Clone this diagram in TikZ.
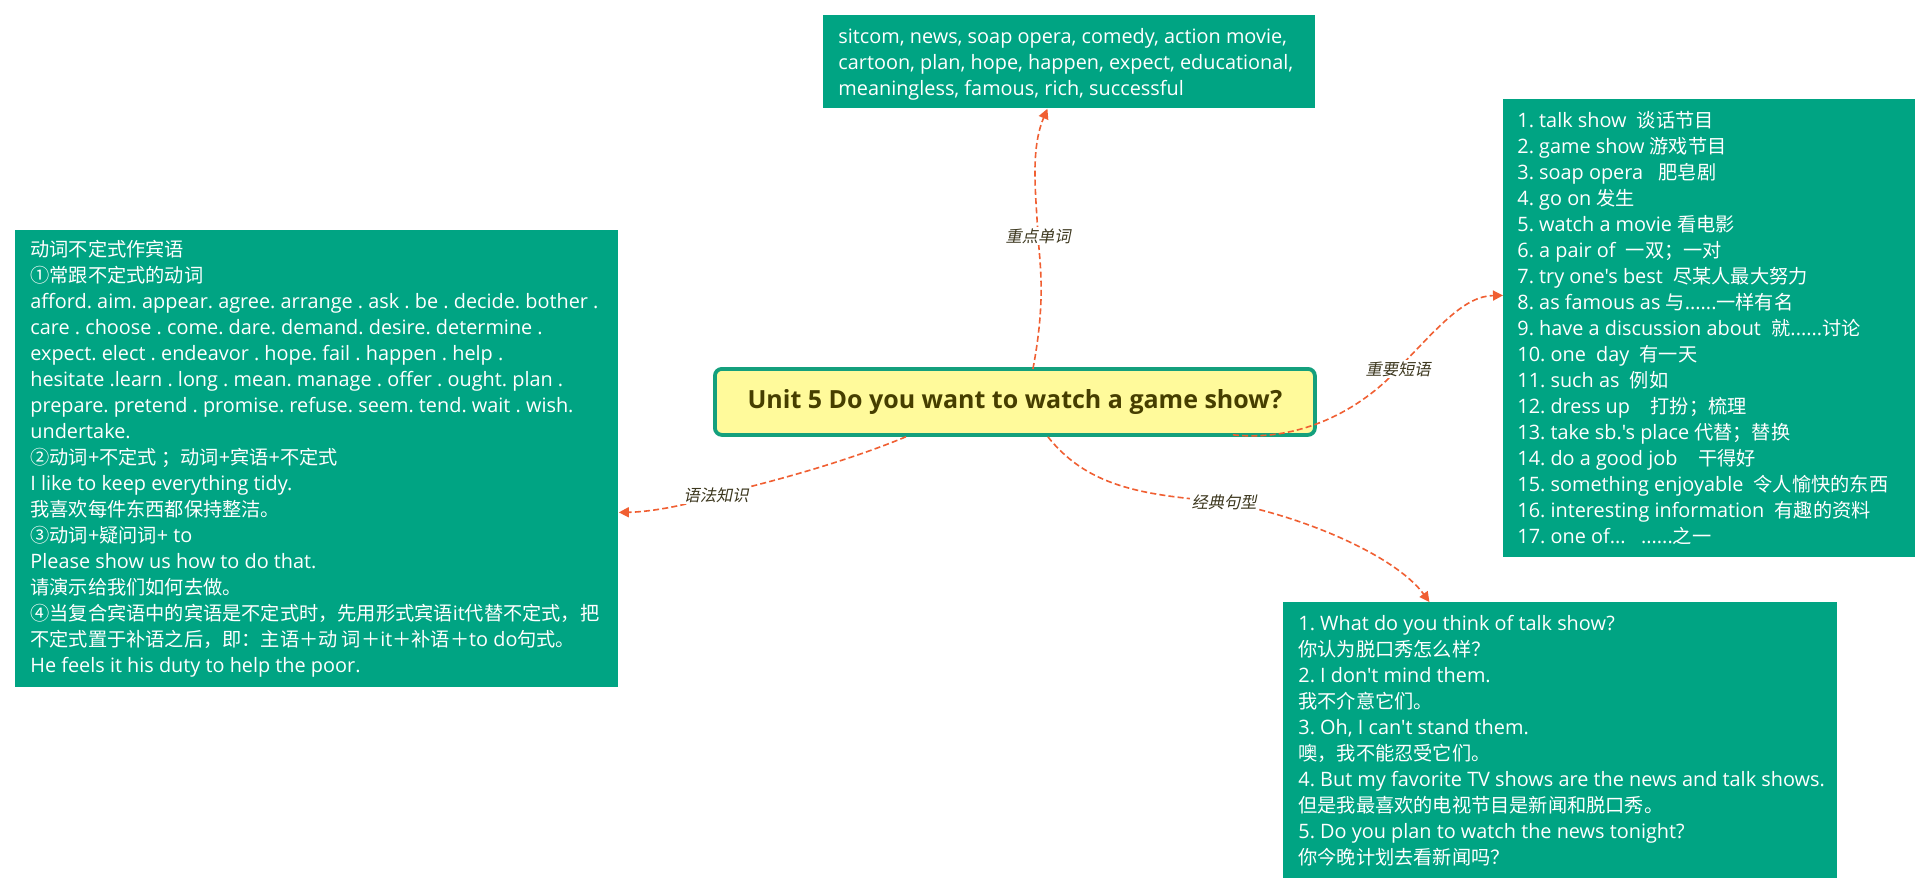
\documentclass[tikz,border=0pt]{standalone}
\usepackage{fontspec}
\setmainfont{Open Sans}
\newfontfamily\latinfont{Open Sans}
\newfontfamily\cjk[Scale=0.967]{Noto Sans CJK SC}
\newfontfamily\cjkit[Scale=0.967,FakeSlant=0.2]{Noto Sans CJK SC}
\usetikzlibrary{arrows.meta}
% automatic switching between Latin and CJK fonts
\chardef\cjkclass=7
\makeatletter
\def\setcjkrange#1#2{\count@=#1\relax
  \loop\XeTeXcharclass\count@=\cjkclass\relax
  \ifnum\count@<#2\relax\advance\count@\@ne\repeat}
\setcjkrange{"4E00}{"9FFF}
\setcjkrange{"3000}{"303F}
\setcjkrange{"FF00}{"FFEF}
\setcjkrange{"2460}{"2473}
\makeatother
\def\curcjk{\cjk}
\def\curlatin{\latinfont}
\XeTeXinterchartoks 0 \cjkclass = {\curcjk}
\XeTeXinterchartoks 4095 \cjkclass = {\curcjk}
\XeTeXinterchartoks \cjkclass 0 = {\curlatin}
\XeTeXinterchartoks 4095 0 = {\curlatin}
\XeTeXinterchartokenstate=1
\frenchspacing
\definecolor{boxgreen}{RGB}{0,164,131}
\definecolor{titlefill}{RGB}{255,250,155}
\definecolor{titleborder}{RGB}{20,160,125}
\definecolor{titletext}{RGB}{70,62,0}
\definecolor{connorange}{RGB}{240,95,50}
\definecolor{labeltext}{RGB}{60,55,30}
\tikzset{
  infobox/.style={fill=boxgreen, anchor=north west, inner sep=0pt},
  infotext/.style={text=white, anchor=west, align=left, inner sep=0pt,
    font=\frenchspacing\fontsize{9.93pt}{13pt}\selectfont},
  titlebox/.style={fill=titlefill, draw=titleborder, line width=1.9pt,
    rounded corners=3.5pt, anchor=north west, minimum width=300pt,
    minimum height=33pt, text=titletext,
    font=\fontsize{12.5pt}{15pt}\selectfont\bfseries},
  conn/.style={draw=connorange, line width=0.8pt, dash pattern=on 3pt off 1.6pt,
    -{Triangle[length=5pt,width=5pt]}},
  lbl/.style={fill=white, text=labeltext, inner sep=1pt,
    font={\def\curcjk{\cjkit}\cjkit\fontsize{8.4pt}{10pt}\selectfont}}
}
\begin{document}
\begin{tikzpicture}[x=0.5pt,y=-0.5pt]
\useasboundingbox[fill=white] (0,0) rectangle (1931,893);

\node[titlebox] (title) at (713,367) {Unit 5 Do you want to watch a game show?};

% boxes
\node[infobox, minimum width=246pt, minimum height=46.5pt] (vocab) at (823,15) {};
\node[infobox, minimum width=206pt, minimum height=229pt] (phrases) at (1503,99) {};
\node[infobox, minimum width=301.5pt, minimum height=228.5pt] (grammar) at (15,230) {};
\node[infobox, minimum width=277pt, minimum height=138pt] (sentences) at (1283,602) {};

% texts
\node[infotext] (vocab-t) at ([xshift=7.5pt,yshift=-1pt]vocab.west)
{sitcom, news, soap opera, comedy, action movie,\\
cartoon, plan, hope, happen, expect, educational,\\
meaningless, famous, rich, successful};

\node[infotext] (phrases-t) at ([xshift=7pt]phrases.west)
{1. talk show\ \ 谈话节目\\
2. game show 游戏节目\\
3. soap opera\ \ \ 肥皂剧\\
4. go on 发生\\
5. watch a movie 看电影\\
6. a pair of\ \ 一双；一对\\
7. try one's best\ \ 尽某人最大努力\\
8. as famous as 与......一样有名\\
9. have a discussion about\ \ 就......讨论\\
10. one\ \ day\ \ 有一天\\
11. such as\ \ 例如\\
12. dress up\ \ \ \ 打扮；梳理\\
13. take sb.'s place 代替；替换\\
14. do a good job\ \ \ \ 干得好\\
15. something enjoyable\ \ 令人愉快的东西\\
16. interesting information\ \ 有趣的资料\\
17. one of...\ \ \ ......之一};

\node[infotext] (grammar-t) at ([xshift=7.5pt]grammar.west)
{动词不定式作宾语\\
①常跟不定式的动词\\
afford. aim. appear. agree. arrange . ask . be . decide. bother .\\
care . choose . come. dare. demand. desire. determine .\\
expect. elect . endeavor . hope. fail . happen . help .\\
hesitate .learn . long . mean. manage . offer . ought. plan .\\
prepare. pretend . promise. refuse. seem. tend. wait . wish.\\
undertake.\\
②动词+不定式 ；动词+宾语+不定式\\
I like to keep everything tidy.\\
我喜欢每件东西都保持整洁。\\
③动词+疑问词+ to\\
Please show us how to do that.\\
请演示给我们如何去做。\\
④当复合宾语中的宾语是不定式时，先用形式宾语it代替不定式，把\\
不定式置于补语之后，即：主语＋动 词＋it＋补语＋to do句式。\\
He feels it his duty to help the poor.};

\node[infotext] (sentences-t) at ([xshift=7.5pt]sentences.west)
{1. What do you think of talk show?\\
你认为脱口秀怎么样？\\
2. I don't mind them.\\
我不介意它们。\\
3. Oh, I can't stand them.\\
噢，我不能忍受它们。\\
4. But my favorite TV shows are the news and talk shows.\\
但是我最喜欢的电视节目是新闻和脱口秀。\\
5. Do you plan to watch the news tonight?\\
你今晚计划去看新闻吗？};

% connectors
\draw[conn] ([xshift=9pt,yshift=-1pt]title.north)
  .. controls (1046,300) and (1040,265) .. (1038,236) node[lbl] {重点单词}
  .. controls (1036,195) and (1030,150) .. ([xshift=-11pt]vocab.south);

\draw[conn] ([xshift=109pt,yshift=1pt]title.south)
  .. controls (1300,442) and (1360,410) .. (1398,369) node[lbl] {重要短语}
  .. controls (1440,325) and (1465,296) .. ([yshift=16.5pt]phrases.west);

\draw[conn] ([xshift=-54.5pt]title.south)
  .. controls (850,460) and (780,480) .. (716,495) node[lbl] {语法知识}
  .. controls (690,505) and (650,512) .. ([yshift=-26.75pt]grammar.east);

\draw[conn] ([xshift=16.5pt]title.south)
  .. controls (1090,490) and (1150,495) .. (1224,502) node[lbl] {经典句型}
  .. controls (1300,515) and (1395,555) .. ([xshift=-65.5pt]sentences.north);
\end{tikzpicture}
\end{document}
